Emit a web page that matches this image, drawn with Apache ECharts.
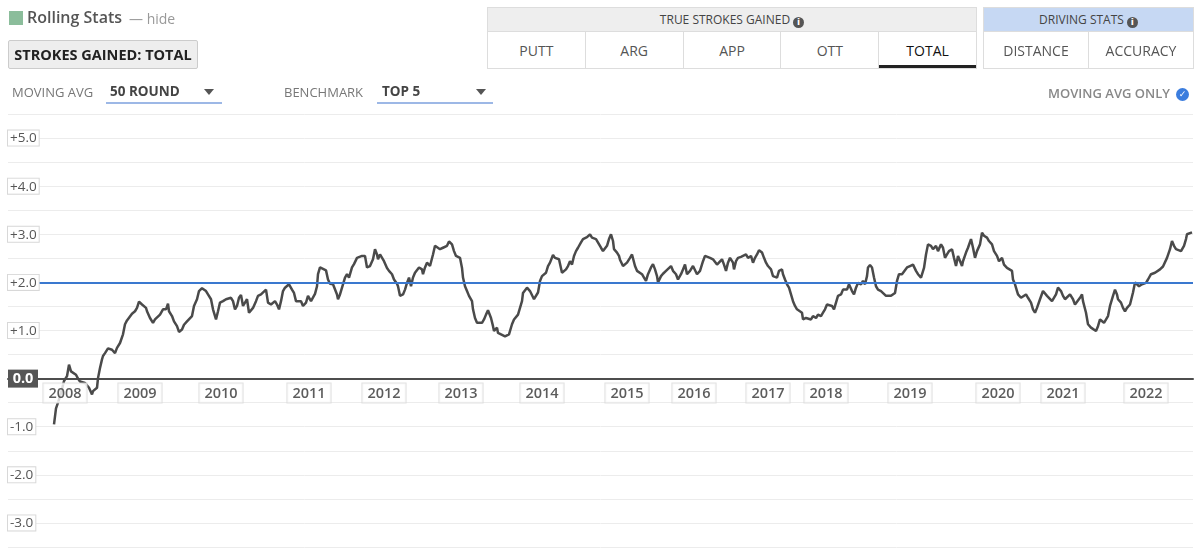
<!DOCTYPE html>
<html>
<head>
<meta charset="utf-8">
<script src="https://cdn.jsdelivr.net/npm/echarts@6/dist/echarts.min.js"></script>
<style>
  html, body { margin:0; padding:0; background:#fff; }
  body { width:1200px; height:553px; position:relative; overflow:hidden; font-family:"Open Sans", "Noto Sans", sans-serif; }
  #chart { position:absolute; left:0; top:0; width:1200px; height:553px; }
  .abs { position:absolute; white-space:nowrap; }
  .sq { left:9px; top:11px; width:14px; height:14px; background:#8bbd9b; }
  .title { left:27px; top:6px; font-size:16px; font-weight:600; color:#555; }
  .hide { left:129px; top:9px; font-size:14px; color:#999; }
  .sgbox { left:8px; top:40px; width:188px; height:27px; background:#eee; border:1px solid #ccc; border-radius:2px;
           font-size:14.5px; font-weight:700; color:#222; text-align:center; line-height:27px; }
  .lbl { font-size:13px; color:#777; top:83px; }
  .val { font-size:13.5px; font-weight:700; color:#444; top:82px; }
  .arrow { width:0; height:0; border-left:5px solid transparent; border-right:5px solid transparent; border-top:6px solid #555; top:89px; }
  .uline { height:2px; background:#9db8e6; top:102px; }
  .panel { border:1px solid #ddd; background:#fff; box-sizing:border-box; }
  .phead { position:absolute; left:0; top:0; right:0; height:23px; background:#eee; border-bottom:1px solid #ddd;
           font-size:12px; color:#444; text-align:center; line-height:23px; }
  .cells { position:absolute; left:0; right:0; top:24px; bottom:0; display:flex; }
  .cell { flex:1; text-align:center; font-size:14px; color:#555; line-height:38px; border-left:1px solid #ddd; position:relative; }
  .cell:first-child { border-left:none; }
  .cell.active { color:#111; }
  .cell.active::after { content:""; position:absolute; left:0; right:0; bottom:0; height:3px; background:#222; }
  .info { display:inline-block; width:11px; height:11px; border-radius:50%; background:#555; color:#fff; font-size:9px;
          line-height:11px; text-align:center; font-weight:700; vertical-align:-1px; margin-left:3px; font-family:"DejaVu Sans", sans-serif; }
  .only { right:30px; top:84px; font-size:13px; font-weight:600; color:#888; }
  .check { right:11px; top:88px; width:13px; height:13px; border-radius:50%; background:#3b7dde; color:#fff; font-size:9px;
           line-height:13px; text-align:center; font-family:"DejaVu Sans", sans-serif; font-weight:700; }
</style>
</head>
<body>
<div id="chart"></div>

<div class="abs sq"></div>
<div class="abs title">Rolling Stats</div>
<div class="abs hide">— hide</div>
<div class="abs sgbox">STROKES GAINED: TOTAL</div>

<div class="abs lbl" style="left:12px;">MOVING AVG</div>
<div class="abs val" style="left:110px;">50 ROUND</div>
<div class="abs arrow" style="left:204px;"></div>
<div class="abs uline" style="left:106px;width:116px;"></div>

<div class="abs lbl" style="left:284px;">BENCHMARK</div>
<div class="abs val" style="left:382px;">TOP 5</div>
<div class="abs arrow" style="left:476px;"></div>
<div class="abs uline" style="left:377px;width:116px;"></div>

<div class="abs only">MOVING AVG ONLY</div>
<div class="abs check">✓</div>

<div class="abs panel" style="left:487px;top:7px;width:490px;height:62px;">
  <div class="phead">TRUE STROKES GAINED<span class="info">i</span></div>
  <div class="cells">
    <div class="cell">PUTT</div><div class="cell">ARG</div><div class="cell">APP</div><div class="cell">OTT</div><div class="cell active">TOTAL</div>
  </div>
</div>
<div class="abs panel" style="left:983px;top:7px;width:211px;height:62px;">
  <div class="phead" style="background:#c6d8f3;">DRIVING STATS<span class="info">i</span></div>
  <div class="cells">
    <div class="cell">DISTANCE</div><div class="cell">ACCURACY</div>
  </div>
</div>

<script>
// Round index (x) and 50-round moving average strokes gained total (y)
const rounds = [1,3,5,8,11,14,16,18,20,23,25,27,32,34,36,39,40,42,44,45,47,49,50,52,54,55,57,59,60,62,64,67,69,70,72,74,76,79,80,82,84,86,89,90,93,94,97,100,102,104,107,109,110,113,115,116,119,121,124,126,129,131,134,136,139,141,144,146,149,151,153,155,158,160,163,165,167,170,173,175,178,180,182,184,186,188,190,192,194,196,198,200,203,205,208,210,213,215,218,220,222,224,226,228,230,232,234,236,239,241,243,245,248,250,253,255,258,260,262,264,265,267,270,273,275,277,
280,284,285,287,290,292,294,296,299,301,304,306,309,310,312,314,317,320,322,324,325,327,329,331,334,336,339,341,344,345,347,350,352,354,356,358,360,362,364,366,369,370,372,374,377,380,382,384,387,390,392,394,396,399,401,403,405,407,409,410,412,414,416,419,420,422,424,426,429,431,433,435,438,440,441,444,445,448,450,452,454,456,459,461,463,465,467,469,470,472,474,477,479,481,483,485,487,489,491,493,495,497,500,502,504,506,509,511,513,515,517,519,521,523,525,528,530,532,534,537,539,541,543,545,548,550,552,554,556,558,560,561,564,566,
567,570,572,574,577,579,580,582,584,586,589,591,593,595,598,600,602,604,605,608,610,613,615,618,620,623,625,628,630,632,634,637,640,642,644,647,650,652,654,657,660,662,664,666,669,671,673,675,677,680,681,683,685,688,690,693,695,698,700,702,704,706,709,711,713,715,718,720,722,724,726,729,730,732,734,736,738,740,742,744,746,749,750,753,755,758,760,763,765,768,770,772,774,776,779,781,783,785,788,790,792,794,796,799,801,803,805,808,810,812,814,815,817,819,821,823,825,828,830,833,835,838,840,842,844,846,849,851,854,856,
857,860,863,865,868,870,871,873,875,878,880,883,885,888,890,892,894,896,899,901,903,905,907,909,910,913,915,918,920,922,924,927,929,931,934,936,939,941,944,946,949,951,954,956,959,960,962,964,965,968,970,973,975,978,980,982,984,987,990,992,994,996,999,1001,1003,1005,1008,1010,1012,1014,1017,1020,1022,1024,1027,1029,1030,1033,1035,1038,1040,1043,1045,1047,1049,1051,1053,1055,1057,1059,1060,1062,1064,1065,1068,1070,1072,1074,1077,1079,1080,1082,1084,1086,1089,1090,1093,1095,1098,1100,1102,1104,1107,1110,1112,1114,1115,1117,1119,1121,1123,1125,1128,1130,1131,1133,1134,1136,1139];
const sgTotal = [-0.95,-0.62,-0.50,-0.30,-0.05,0.05,0.29,0.15,0.15,0.08,0.00,-0.06,-0.09,-0.06,-0.19,-0.33,-0.26,-0.24,-0.19,0.01,0.22,0.40,0.47,0.53,0.57,0.63,0.65,0.60,0.64,0.53,0.64,0.74,0.71,0.92,1.13,1.21,1.23,1.35,1.33,1.40,1.47,1.60,1.54,1.51,1.47,1.40,1.26,1.16,1.23,1.19,1.33,1.30,1.44,1.44,1.56,1.40,1.30,1.19,1.09,0.97,1.02,1.12,1.19,1.23,1.30,1.51,1.65,1.82,1.88,1.89,1.82,1.75,1.65,1.44,1.23,1.40,1.58,1.61,1.65,1.67,1.68,1.61,1.44,1.51,1.68,1.74,1.51,1.58,1.65,1.37,1.33,1.47,1.61,1.72,1.75,1.79,1.85,1.58,1.54,1.58,1.61,1.54,1.44,1.61,1.82,1.89,1.85,1.96,1.85,1.78,1.61,1.58,1.61,1.51,1.58,1.72,1.61,1.65,1.76,1.92,2.17,2.31,2.28,2.25,2.06,1.97,
1.96,1.75,1.65,1.75,1.96,2.10,2.17,2.10,2.31,2.38,2.51,2.51,2.55,2.51,2.55,2.31,2.34,2.48,2.69,2.58,2.48,2.58,2.62,2.44,2.30,2.24,2.17,2.06,1.97,1.92,1.72,1.75,1.85,1.99,2.10,1.92,2.10,2.20,2.24,2.31,2.27,2.17,2.31,2.41,2.34,2.58,2.76,2.72,2.69,2.72,2.74,2.76,2.85,2.79,2.65,2.55,2.51,2.51,2.30,2.10,1.92,1.82,1.72,1.61,1.44,1.26,1.16,1.19,1.16,1.23,1.33,1.42,1.26,1.09,0.99,1.06,0.95,0.92,0.95,0.88,0.85,0.92,1.13,1.23,1.26,1.33,1.47,1.61,1.78,1.82,1.89,1.82,1.85,1.65,1.65,1.79,2.03,2.13,2.10,2.20,2.34,2.41,2.57,2.51,2.48,2.48,2.20,2.24,2.27,2.34,2.44,2.37,2.55,2.65,2.72,2.83,2.90,2.93,2.94,3.00,2.93,2.97,2.90,2.86,2.72,2.65,2.69,2.76,2.90,3.00,2.86,2.69,2.62,2.55,
2.47,2.34,2.37,2.41,2.51,2.58,2.55,2.34,2.24,2.20,2.17,2.10,2.03,2.17,2.31,2.38,2.27,2.13,2.00,2.13,2.18,2.24,2.27,2.34,2.24,2.17,2.06,2.17,2.27,2.37,2.17,2.24,2.34,2.31,2.17,2.24,2.44,2.55,2.51,2.51,2.48,2.44,2.37,2.41,2.48,2.37,2.24,2.41,2.51,2.41,2.27,2.44,2.51,2.53,2.55,2.58,2.51,2.55,2.41,2.51,2.58,2.67,2.62,2.51,2.41,2.34,2.27,2.13,2.17,2.10,2.24,2.27,2.17,2.06,1.96,1.89,1.75,1.61,1.51,1.44,1.40,1.37,1.23,1.26,1.30,1.23,1.30,1.26,1.33,1.30,1.37,1.44,1.54,1.51,1.51,1.44,1.58,1.72,1.75,1.85,1.89,1.85,1.96,1.82,1.75,1.89,1.99,1.96,2.03,1.96,2.13,2.31,2.36,2.31,2.10,1.92,1.85,1.82,1.78,1.72,1.68,1.72,1.75,1.78,2.03,2.17,2.17,2.20,2.31,2.32,
2.34,2.37,2.24,2.17,2.10,2.06,2.30,2.58,2.79,2.76,2.69,2.76,2.65,2.79,2.72,2.51,2.58,2.65,2.69,2.51,2.34,2.55,2.51,2.34,2.44,2.62,2.72,2.90,2.72,2.51,2.65,2.79,3.03,2.97,2.93,2.86,2.79,2.65,2.55,2.44,2.51,2.37,2.30,2.34,2.24,2.06,1.96,1.82,1.75,1.68,1.72,1.75,1.68,1.58,1.44,1.37,1.47,1.65,1.82,1.79,1.72,1.68,1.61,1.58,1.75,1.89,1.82,1.72,1.65,1.61,1.75,1.65,1.54,1.58,1.68,1.75,1.61,1.37,1.13,1.06,1.02,0.99,1.09,1.23,1.26,1.16,1.13,1.30,1.51,1.54,1.72,1.85,1.75,1.65,1.58,1.47,1.40,1.47,1.54,1.58,1.79,2.00,1.96,1.92,1.96,1.92,1.99,2.06,2.17,2.13,2.20,2.24,2.27,2.33,2.34,2.51,2.55,2.69,2.86,2.76,2.69,2.69,2.65,2.62,2.76,2.90,3.00,2.97,3.04];

// First round of each season (x-axis labels)
const yearRounds = [12,87,168,256,331,408,489,574,641,715,773,857,945,1010,1093];
const yearLabels = ['2008','2009','2010','2011','2012','2013','2014','2015','2016','2017','2018','2019','2020','2021','2022'];
const benchmark = 2.0;   // Top 5 benchmark

const FONT = '"Open Sans", "Noto Sans", sans-serif';
const chart = echarts.init(document.getElementById('chart'), null, { renderer: 'canvas' });
const lineData = rounds.map((r, i) => [r, sgTotal[i]]);
const yearData = yearRounds.map((r, i) => [r, 0, yearLabels[i]]);

chart.setOption({
  animation: false,
  grid: { left: 8, right: 7, top: 114, bottom: 6, outerBoundsMode: 'none', containLabel: false },
  xAxis: {
    type: 'value', min: -45, max: 1140, z: 1,
    axisLine: { show: true, onZero: true, onZeroAxisIndex: 0, lineStyle: { color: '#4d4d4d', width: 2 } },
    axisTick: { show: false },
    splitLine: { show: false },
    axisLabel: { show: false }
  },
  yAxis: [
    {
      type: 'value', min: -3.5, max: 5.5, interval: 0.5, z: 0,
      axisLine: { show: false }, axisTick: { show: false }, axisLabel: { show: false },
      splitLine: { show: true, lineStyle: { color: '#ececec', width: 1 } }
    },
    {
      type: 'value', min: -3.5, max: 5.5, interval: 0.5, position: 'left', z: 6,
      axisLine: { show: false }, axisTick: { show: false }, splitLine: { show: false },
      axisLabel: {
        inside: true, margin: 0, showMinLabel: true, showMaxLabel: true,
        formatter: v => {
          if (Math.abs(v - Math.round(v)) > 1e-9) return '';
          if (Math.round(v) === 0) return '{z|0.0}';
          return '{b|' + (v > 0 ? '+' : '') + v.toFixed(1) + '}';
        },
        rich: {
          b: { fontFamily: FONT, fontSize: 13.5, color: '#555', backgroundColor: '#fff', borderColor: '#d8d8d8', borderWidth: 1,
               padding: [1, 2, 0, 2], lineHeight: 14 },
          z: { fontFamily: FONT, fontSize: 14.5, fontWeight: 'bold', color: '#fff', backgroundColor: '#555',
               padding: [2, 2, 1, 2], lineHeight: 16, width: 26, align: 'center' }
        }
      }
    }
  ],
  series: [
    {
      type: 'line', data: lineData, yAxisIndex: 0, showSymbol: false, symbol: 'none',
      lineStyle: { color: '#4a4a4a', width: 2.5 }, z: 2,
      markLine: {
        silent: true, symbol: 'none', label: { show: false },
        lineStyle: { color: '#3a78cf', width: 2, type: 'solid' },
        data: [{ yAxis: benchmark }]
      }
    },
    {
      type: 'scatter', data: yearData, yAxisIndex: 0, symbolSize: 0, z: 4, silent: true,
      label: {
        show: true, position: 'bottom', distance: 5,
        formatter: p => p.data[2],
        fontFamily: FONT, fontSize: 14.5, fontWeight: 600, color: '#333',
        backgroundColor: '#fff', borderColor: '#d8d8d8', borderWidth: 1,
        padding: [1, 5, 0, 5], lineHeight: 18
      }
    }
  ]
});
</script>
</body>
</html>
